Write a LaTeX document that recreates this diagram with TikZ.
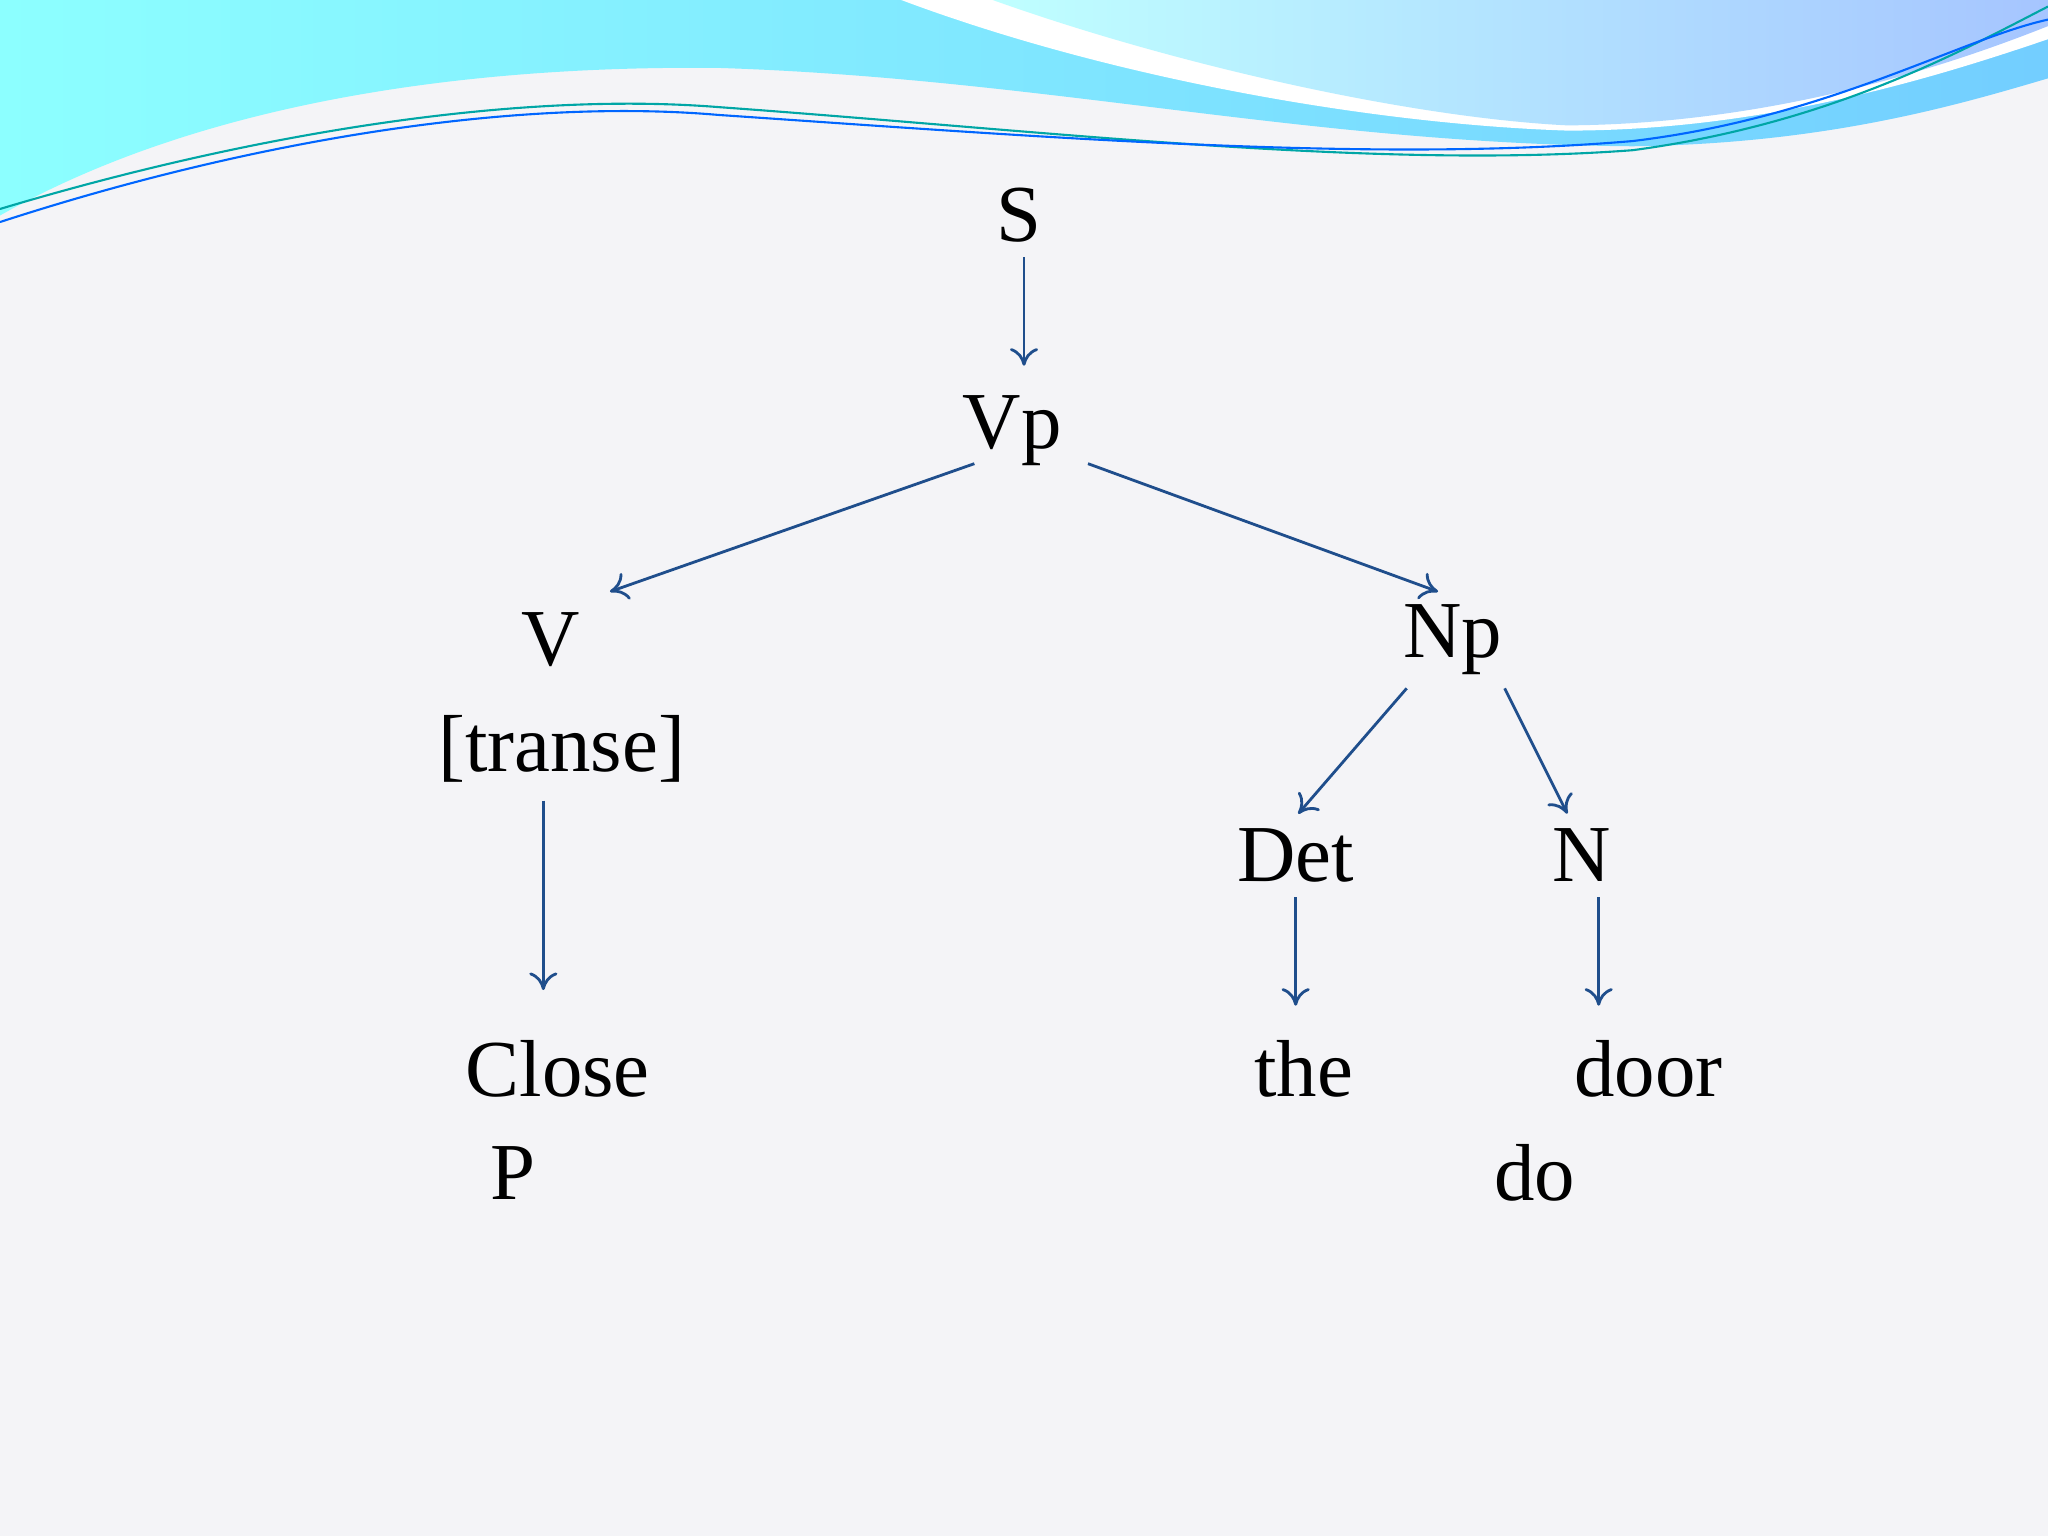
\documentclass[tikz,border=0pt]{standalone}
\usepackage{fontspec}
\setmainfont{Liberation Serif}
\usetikzlibrary{arrows.meta}
\begin{document}
\begin{tikzpicture}[x=0.01306cm,y=-0.01306cm,
  lbl/.style={font=\fontsize{23}{26}\selectfont, inner sep=0pt},
  arr/.style={draw=arrowblue, line width=0.8pt, -{To[length=5pt,width=8pt]}}]
\definecolor{arrowblue}{HTML}{1F4E8C}
\definecolor{bg}{HTML}{F4F4F7}
\fill[bg] (0,0) rectangle (1568,1176);
\useasboundingbox (0,0) rectangle (1568,1176);
% top decoration
\shade[left color=cyan!45!white, right color=blue!35!cyan!55!white]
  (0,0) -- (0,165) .. controls (150,80) and (350,50) .. (550,52)
  .. controls (800,60) and (1000,110) .. (1250,112)
  .. controls (1400,110) and (1500,80) .. (1568,60) -- (1568,0) -- cycle;
\fill[white] (690,0) .. controls (850,60) and (1050,95) .. (1200,100)
  .. controls (1350,100) and (1480,60) .. (1568,30) -- (1568,0) -- cycle;
\shade[left color=cyan!25!white, right color=cyan!35!blue!35!white]
  (760,0) .. controls (900,50) and (1080,90) .. (1200,96)
  .. controls (1350,95) and (1480,55) .. (1568,20) -- (1568,0) -- cycle;
\draw[teal!70!cyan, line width=0.6pt] (0,160) .. controls (200,100) and (400,70) .. (550,82)
  .. controls (800,100) and (1050,130) .. (1250,115) .. controls (1400,95) and (1500,40) .. (1568,5);
\draw[blue!60!cyan, line width=0.6pt] (0,170) .. controls (200,105) and (400,75) .. (550,88)
  .. controls (800,105) and (1050,125) .. (1250,108) .. controls (1400,90) and (1500,30) .. (1568,15);
% labels
\node[lbl] (S) at (780,165) {S};
\node[lbl] (Vp) at (775,330) {Vp};
\node[lbl] (V) at (422,490) {V};
\node[lbl] (tr) at (430,573) {[transe]};
\node[lbl] (Np) at (1112,490) {Np};
\node[lbl] (Det) at (992,655) {Det};
\node[lbl] (N) at (1211,655) {N};
\node[lbl] (Close) at (427,818) {Close};
\node[lbl] (P) at (393,898) {P};
\node[lbl] (the) at (998,818) {the};
\node[lbl] (door) at (1262,818) {door};
\node[lbl] (do) at (1175,898) {do};
% connector endpoints
\coordinate (s1) at (784,197); \coordinate (s2) at (784,280);
\coordinate (v1) at (746,355); \coordinate (v2) at (467,453);
\coordinate (n1) at (833,355); \coordinate (n2) at (1101,453);
\coordinate (t1) at (416,613); \coordinate (t2) at (416,758);
\coordinate (d1) at (1077,527); \coordinate (d2) at (994,623);
\coordinate (m1) at (1152,527); \coordinate (m2) at (1200,623);
\coordinate (e1) at (992,687); \coordinate (e2) at (992,770);
\coordinate (o1) at (1224,687); \coordinate (o2) at (1224,770);
\draw[arr] (s1) -- (s2);
\draw[arr] (v1) -- (v2);
\draw[arr] (n1) -- (n2);
\draw[arr] (t1) -- (t2);
\draw[arr] (d1) -- (d2);
\draw[arr] (m1) -- (m2);
\draw[arr] (e1) -- (e2);
\draw[arr] (o1) -- (o2);
\end{tikzpicture}
\end{document}
